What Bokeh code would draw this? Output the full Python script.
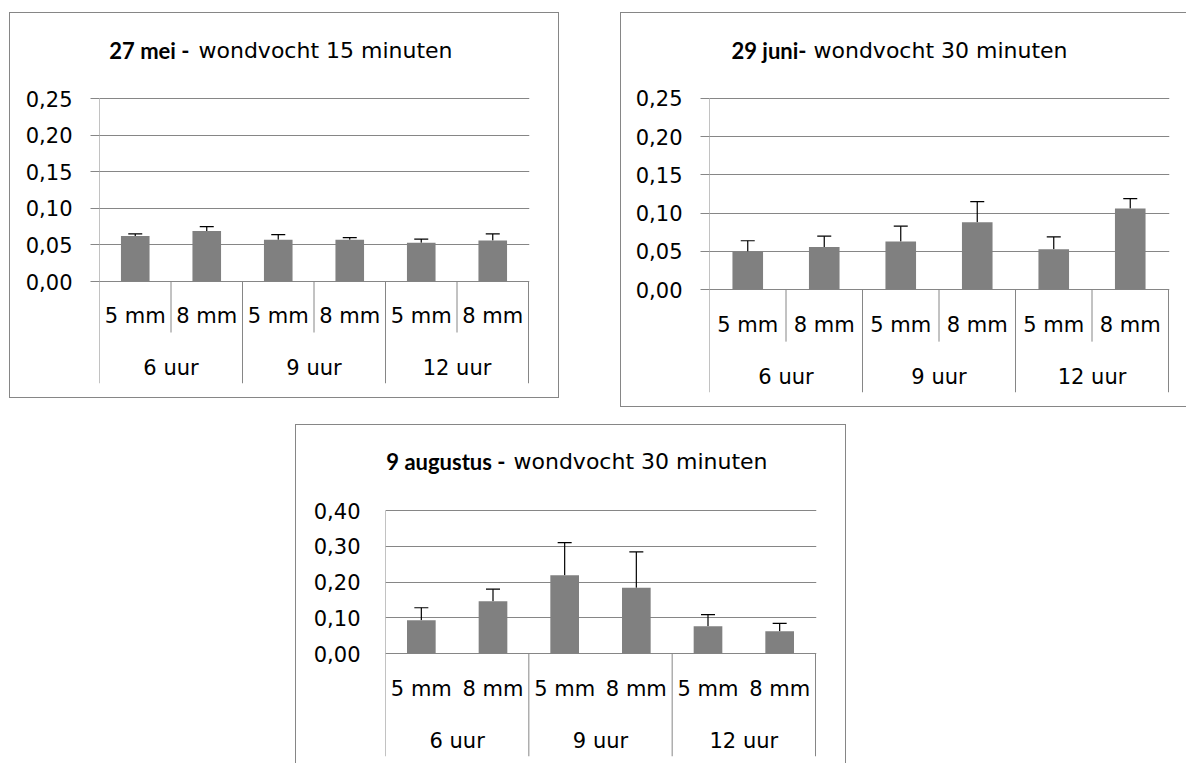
from bokeh.plotting import figure
from bokeh.models import ColumnDataSource, Whisker, TeeHead, FixedTicker, Spacer, Range1d
from bokeh.layouts import row, column
from bokeh.embed import file_html
from bokeh.resources import INLINE
from bokeh.core.properties import value

# ---------------- data ----------------
sub_labels = ["5 mm", "8 mm", "5 mm", "8 mm", "5 mm", "8 mm"]
group_labels = ["6 uur", "9 uur", "12 uur"]

mei_values = [0.062, 0.069, 0.057, 0.057, 0.053, 0.056]
mei_errors = [0.003, 0.006, 0.007, 0.003, 0.005, 0.009]

juni_values = [0.050, 0.056, 0.063, 0.088, 0.053, 0.106]
juni_errors = [0.014, 0.014, 0.020, 0.027, 0.016, 0.013]

aug_values = [0.093, 0.146, 0.219, 0.184, 0.076, 0.062]
aug_errors = [0.035, 0.034, 0.091, 0.100, 0.033, 0.022]

ticks_025 = [0.0, 0.05, 0.10, 0.15, 0.20, 0.25]
tick_labels_025 = ["0,00", "0,05", "0,10", "0,15", "0,20", "0,25"]
ticks_040 = [0.0, 0.10, 0.20, 0.30, 0.40]
tick_labels_040 = ["0,00", "0,10", "0,20", "0,30", "0,40"]

FONT = "DejaVu Sans"
BOLD_FONT = "Lato"
FS = "21px"
TFS = "22px"
GRAY = "#868686"
BAR = "#808080"


def make_chart(values, errors, ticks, tick_labels, title_bold, title_rest,
               W, H, f_left, f_top, f_w, plot_h, below_h,
               sub_sep_h, sub_dy, grp_dy, bold_end, rest_start, title_mid,
               tick_out, standoff):
    # frame spans from the top of the chart box down to the bottom of the
    # category separators; f_top is the pixel row of the top tick in the box
    n = len(values)
    ppx = f_w / n
    ppu = plot_h / ticks[-1]
    x0, x1 = -0.5, n - 0.5 + 1.0 / ppx
    y0 = -below_h / ppu
    y1 = ticks[-1] + f_top / ppu
    fw = f_w + 1
    fh = f_top + plot_h + below_h

    p = figure(width=W, height=H, output_backend="svg", toolbar_location=None,
               x_range=Range1d(x0, x1), y_range=Range1d(y0, y1),
               x_axis_location=None, min_border=0)
    p.min_border_left = f_left
    p.min_border_top = 0
    p.min_border_right = W - f_left - fw
    p.min_border_bottom = H - fh
    p.outline_line_color = None
    p.background_fill_color = "white"
    p.border_fill_color = "white"
    p.xgrid.visible = False

    p.yaxis.ticker = FixedTicker(ticks=ticks)
    p.yaxis.major_label_overrides = {t: l for t, l in zip(ticks, tick_labels)}
    p.yaxis.axis_line_color = None
    p.yaxis.major_tick_line_color = GRAY if tick_out else None
    p.yaxis.major_tick_out = tick_out
    p.yaxis.major_tick_in = 0
    p.yaxis.minor_tick_line_color = None
    p.yaxis.major_label_standoff = standoff
    p.yaxis.major_label_text_font = FONT
    p.yaxis.major_label_text_font_size = FS
    p.yaxis.major_label_text_color = "black"
    p.ygrid.ticker = FixedTicker(ticks=ticks)
    p.ygrid.grid_line_color = GRAY

    xs = list(range(n))
    uppers = [v + e for v, e in zip(values, errors)]
    src = ColumnDataSource(dict(x=xs, top=values, upper=uppers, label=sub_labels))
    p.vbar(x="x", top="top", width=0.4, source=src, fill_color=BAR, line_color=None)
    p.add_layout(Whisker(source=src, base="x", lower="top", upper="upper",
                         dimension="height", line_color="black", line_width=1.2,
                         lower_head=None,
                         upper_head=TeeHead(size=14, line_color="black", line_width=1.2)))

    # value axis line (from the top tick down to the bottom of the category area)
    p.segment(x0=[-0.5], y0=[ticks[-1]], x1=[-0.5], y1=[y0], line_color=GRAY, line_width=1)
    # category separators
    grp_b = [i - 0.5 for i in range(2, n + 1, 2)]
    p.segment(x0=grp_b, y0=[0] * len(grp_b), x1=grp_b, y1=[y0] * len(grp_b),
              line_color=GRAY, line_width=1)
    if sub_sep_h:
        sub_b = [i - 0.5 for i in range(1, n, 2)]
        p.segment(x0=sub_b, y0=[0] * len(sub_b), x1=sub_b,
                  y1=[-sub_sep_h / ppu] * len(sub_b), line_color=GRAY, line_width=1)

    p.text(x="x", y=-sub_dy / ppu, text="label", source=src,
           text_font=value(FONT), text_font_size=FS, text_align="center",
           text_baseline="middle", text_color="black")
    gx = [i + 0.5 for i in range(0, n, 2)]
    p.text(x=gx, y=[-grp_dy / ppu] * len(gx), text=group_labels,
           text_font=value(FONT), text_font_size=FS, text_align="center",
           text_baseline="middle", text_color="black")

    zero_px = f_top + plot_h

    def dx(px):
        return -0.5 + (px - f_left) / ppx

    def dy(py):
        return (zero_px - py) / ppu

    p.text(x=[dx(bold_end)], y=[dy(title_mid)], text=[title_bold],
           text_font=value(BOLD_FONT), text_font_size=TFS, text_font_style="bold",
           text_align="right", text_baseline="middle", text_color="black")
    p.text(x=[dx(rest_start)], y=[dy(title_mid)], text=[title_rest],
           text_font=value(FONT), text_font_size=TFS, text_font_style="normal",
           text_align="left", text_baseline="middle", text_color="black")

    p.styles = {"outline": "1px solid " + GRAY}
    return p


p1 = make_chart(mei_values, mei_errors, ticks_025, tick_labels_025,
                "27 mei -", "wondvocht 15 minuten",
                W=548, H=384, f_left=89, f_top=85, f_w=429, plot_h=183, below_h=102,
                sub_sep_h=51, sub_dy=34, grp_dy=86, bold_end=179, rest_start=188,
                title_mid=37, tick_out=9, standoff=18)
p2 = make_chart(juni_values, juni_errors, ticks_025, tick_labels_025,
                "29 juni-", "wondvocht 30 minuten",
                W=565, H=393, f_left=88, f_top=85, f_w=459, plot_h=192, below_h=103,
                sub_sep_h=52, sub_dy=35, grp_dy=87, bold_end=185, rest_start=192,
                title_mid=37, tick_out=9, standoff=18)
p3 = make_chart(aug_values, aug_errors, ticks_040, tick_labels_040,
                "9 augustus -", "wondvocht 30 minuten",
                W=549, H=338, f_left=89, f_top=85, f_w=430, plot_h=143, below_h=103,
                sub_sep_h=0, sub_dy=35, grp_dy=87, bold_end=209, rest_start=217,
                title_mid=36, tick_out=0, standoff=25)

layout = column(
    Spacer(width=1186, height=13),
    row(Spacer(width=10, height=10), p1, Spacer(width=63, height=10), p2),
    Spacer(width=1186, height=19),
    row(Spacer(width=296, height=10), p3),
)

with open("out.html", "w") as f:
    f.write(file_html(layout, INLINE))
